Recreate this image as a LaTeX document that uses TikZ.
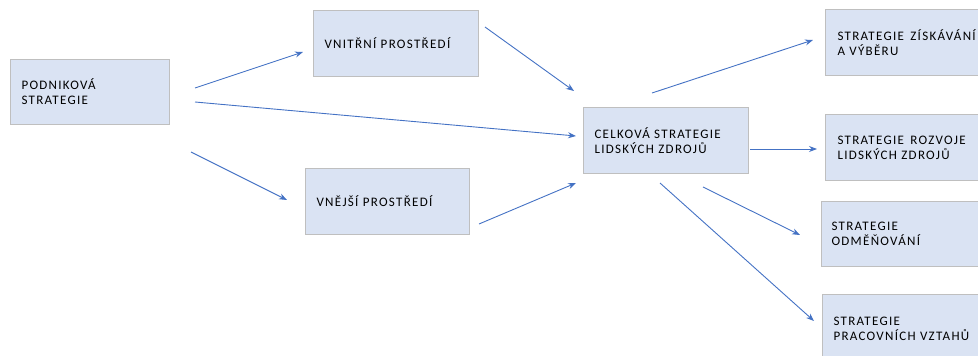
\documentclass[tikz,border=0pt]{standalone}
\usepackage{fontspec}
\setmainfont{Carlito}[LetterSpace=10]
\usetikzlibrary{arrows.meta}
\definecolor{boxfill}{HTML}{DAE3F3}
\definecolor{boxline}{HTML}{BFBFBF}
\definecolor{arr}{HTML}{4472C4}
\begin{document}
\begin{tikzpicture}[x=1pt,y=-1pt,
  box/.style={draw=boxline,fill=boxfill,line width=1pt,anchor=north west,
    inner xsep=11pt,inner ysep=0pt,align=left,
    font=\fontsize{13}{15}\selectfont},
  conn/.style={draw=arr,line width=0.9pt,-{Stealth[length=8pt,width=6pt]}}]
\useasboundingbox (0,0) rectangle (978,356);
\clip (0,0) rectangle (978,356);
\node[box,minimum width=159pt,minimum height=65pt,text width=137pt] (pod) at (10,59) {PODNIKOVÁ\\STRATEGIE};
\node[box,minimum width=165pt,minimum height=66pt,text width=143pt] (vni) at (313,10) {VNITŘNÍ PROSTŘEDÍ};
\node[box,minimum width=164pt,minimum height=66pt,text width=142pt] (vne) at (305,168) {VNĚJŠÍ PROSTŘEDÍ};
\node[box,minimum width=165pt,minimum height=66pt,text width=143pt] (cel) at (583,107) {CELKOVÁ STRATEGIE\\LIDSKÝCH ZDROJŮ};
\node[box,minimum width=165pt,minimum height=66pt,text width=141pt,inner xsep=12pt] (zis) at (825,9) {STRATEGIE\hspace{2pt} ZÍSKÁVÁNÍ\\A VÝBĚRU};
\node[box,minimum width=165pt,minimum height=66pt,text width=141pt,inner xsep=12pt] (roz) at (825,114) {STRATEGIE\hspace{2pt} ROZVOJE\\LIDSKÝCH ZDROJŮ};
\node[box,minimum width=169pt,minimum height=65pt,text width=149pt,inner xsep=10pt] (odm) at (821,201) {STRATEGIE\\ODMĚŇOVÁNÍ};
\node[box,minimum width=167pt,minimum height=68pt,text width=145pt] (pra) at (822,294) {STRATEGIE\\PRACOVNÍCH VZTAHŮ};
% connector end points
\coordinate (a1) at (195,88);  \coordinate (b1) at (303,52);
\coordinate (a2) at (195,102); \coordinate (b2) at (576,136);
\coordinate (a3) at (191,152); \coordinate (b3) at (287,200);
\coordinate (a4) at (485,27);  \coordinate (b4) at (574,91);
\coordinate (a5) at (479,224); \coordinate (b5) at (576,183);
\coordinate (a6) at (652,93);  \coordinate (b6) at (813,40);
\coordinate (a7) at (750,149); \coordinate (b7) at (817,149);
\coordinate (a8) at (703,187); \coordinate (b8) at (800,235);
\coordinate (a9) at (660,183); \coordinate (b9) at (814,321);
\draw[conn] (a1) -- (b1);
\draw[conn] (a2) -- (b2);
\draw[conn] (a3) -- (b3);
\draw[conn] (a4) -- (b4);
\draw[conn] (a5) -- (b5);
\draw[conn] (a6) -- (b6);
\draw[conn] (a7) -- (b7);
\draw[conn] (a8) -- (b8);
\draw[conn] (a9) -- (b9);
\end{tikzpicture}
\end{document}
